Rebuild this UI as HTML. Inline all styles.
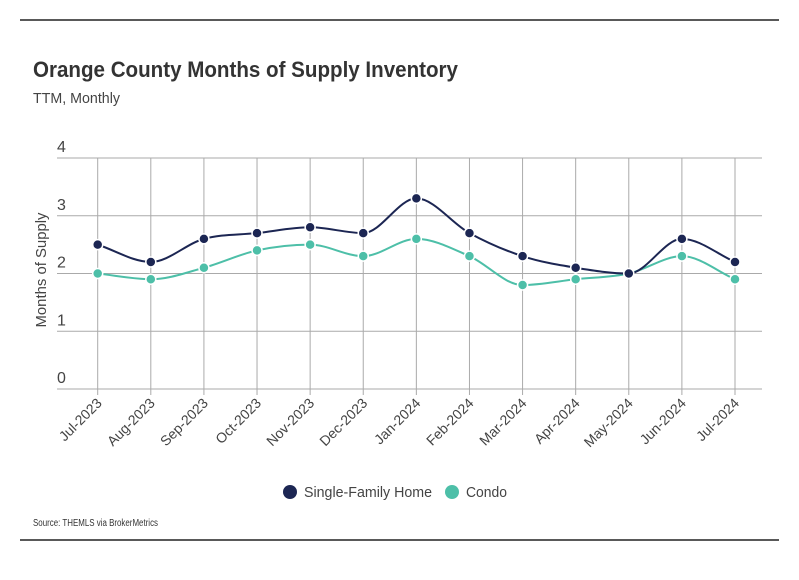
<!DOCTYPE html>
<html><head><meta charset="utf-8"><style>
body{margin:0;background:#fff;font-family:"Liberation Sans",sans-serif;}
</style></head><body>
<svg id="c" width="799" height="575" xmlns="http://www.w3.org/2000/svg">
<line x1="20" y1="20" x2="779" y2="20" stroke="#222" stroke-width="1.5"/>
<text x="33" y="77" font-size="22" font-weight="bold" fill="#333" textLength="425" lengthAdjust="spacingAndGlyphs">Orange County Months of Supply Inventory</text>
<text x="33" y="103" font-size="15" fill="#444" textLength="87" lengthAdjust="spacingAndGlyphs">TTM, Monthly</text>
<text transform="translate(46,270) rotate(-90)" text-anchor="middle" font-size="15" fill="#444" textLength="115" lengthAdjust="spacingAndGlyphs">Months of Supply</text>
<g id="grid"></g><g id="lines"></g><g id="xl"></g>
<circle cx="290" cy="492" r="7" fill="#1c2653"/>
<text x="304" y="497" font-size="15" fill="#444" textLength="128" lengthAdjust="spacingAndGlyphs">Single-Family Home</text>
<circle cx="452" cy="492" r="7" fill="#4dbfa8"/>
<text x="466" y="497" font-size="15" fill="#444" textLength="41" lengthAdjust="spacingAndGlyphs">Condo</text>
<text x="33" y="526" font-size="10" fill="#333" textLength="125" lengthAdjust="spacingAndGlyphs">Source:  THEMLS via BrokerMetrics</text>
<line x1="20" y1="540" x2="779" y2="540" stroke="#222" stroke-width="1.5"/>
</svg>
<script>
const categories=["Jul-2023","Aug-2023","Sep-2023","Oct-2023","Nov-2023","Dec-2023","Jan-2024","Feb-2024","Mar-2024","Apr-2024","May-2024","Jun-2024","Jul-2024"];
const sfh=[2.5,2.2,2.6,2.7,2.8,2.7,3.3,2.7,2.3,2.1,2.0,2.6,2.2];
const condo=[2.0,1.9,2.1,2.4,2.5,2.3,2.6,2.3,1.8,1.9,2.0,2.3,1.9];
const yTicks=[0,1,2,3,4];
const NS="http://www.w3.org/2000/svg";
const x=i=>97.7+i*(735-97.7)/(categories.length-1);
const y=v=>389-v*(389-158)/4;
function mk(t,a,p){const e=document.createElementNS(NS,t);for(const k in a)e.setAttribute(k,a[k]);document.getElementById(p).appendChild(e);return e;}
yTicks.forEach(t=>{
 const l=mk('line',{x1:57,x2:762,y1:y(t),y2:y(t),stroke:'#aaa','stroke-width':1},'grid');
 
 
 const tx=mk('text',{x:57,y:y(t)-6,'font-size':16,fill:'#444'},'grid');tx.textContent=t;
 
 
});
categories.forEach((c,i)=>{
 const l=mk('line',{x1:x(i),x2:x(i),y1:158,y2:395,stroke:'#aaa','stroke-width':1},'grid');
 
 
 const tx=mk('text',{transform:`translate(${x(i)+5},${404}) rotate(-45)`,'text-anchor':'end','font-size':14,fill:'#444'},'xl');tx.textContent=c;
 
 
});
function path(vals){
 const p=vals.map((v,i)=>[x(i),y(v)]);let d=`M${p[0][0]},${p[0][1]}`;
 const n=p.length,m=[];
 for(let i=0;i<n;i++){
  const d0=i>0?(p[i][1]-p[i-1][1])/(p[i][0]-p[i-1][0]):null;
  const d1=i<n-1?(p[i+1][1]-p[i][1])/(p[i+1][0]-p[i][0]):null;
  if(d0===null)m.push(d1);else if(d1===null)m.push(d0);else if(d0*d1<=0)m.push(0);else m.push((d0+d1)/2);
 }
 for(let i=0;i<n-1;i++){const h=(p[i+1][0]-p[i][0])/3;
  d+=` C${p[i][0]+h},${p[i][1]+m[i]*h} ${p[i+1][0]-h},${p[i+1][1]-m[i+1]*h} ${p[i+1][0]},${p[i+1][1]}`;}
 return d;
}
[[condo,'#4dbfa8','condo'],[sfh,'#1c2653','sfh']].forEach(([vals,col,nm])=>{
 const l=mk('path',{d:path(vals),fill:'none',stroke:col,'stroke-width':2},'lines');
 
 
 vals.forEach((v,i)=>{
  const c=mk('circle',{cx:x(i),cy:y(v),r:5,fill:col,stroke:'#fff','stroke-width':1.5},'lines');
  
  
 });
});
</script>
</body></html>
